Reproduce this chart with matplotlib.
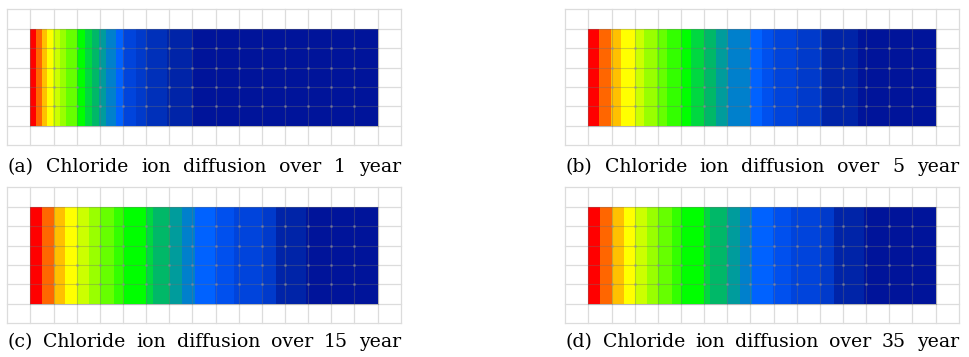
import numpy as np
import matplotlib
matplotlib.use('Agg')
import matplotlib.pyplot as plt
from matplotlib.colors import ListedColormap

# Contour band colours (high concentration -> low)
band_colors = ['#FF0000', '#FF6600', '#FFC000', '#FFFF00', '#CCFF00',
               '#99FF00', '#66FF00', '#33FF00', '#00FF00', '#00D840',
               '#00B868', '#009C9C', '#0080CC', '#0062FF', '#0050EE',
               '#0044DC', '#003ACB', '#0030BA', '#0024A8', '#00149A']

# Band edges along the specimen (in mesh cells, 0..15) and band colour index
edges_1 = [0, 0.24, 0.5, 0.73, 0.99, 1.26, 1.55, 2.01, 2.34, 2.64, 2.98,
           3.28, 3.68, 4.02, 4.56, 5.01, 5.88, 6.97, 15]
levels_1 = [0, 1, 2, 3, 4, 5, 6, 8, 9, 10, 11, 12, 13, 15, 16, 17, 18, 19]

edges_5 = [0, 0.45, 0.96, 1.39, 2.0, 2.42, 2.98, 3.38, 3.98, 4.42, 5.0,
           5.52, 6.03, 6.97, 7.48, 7.98, 8.99, 10.1, 11.66, 15]
levels_5 = [0, 1, 2, 3, 4, 5, 6, 7, 8, 9, 10, 11, 12, 13, 14, 15, 16, 18, 19]

edges_15 = [0, 0.49, 1.0, 1.51, 2.02, 2.54, 3.0, 3.63, 4.03, 5.01, 5.3,
            6.01, 6.53, 7.1, 7.97, 8.8, 10.0, 10.63, 11.92, 15]
levels_15 = [0, 1, 2, 3, 4, 5, 6, 7, 8, 9, 10, 11, 12, 13, 14, 15, 16, 18, 19]

edges_35 = [0, 0.48, 1.02, 1.52, 2.0, 2.53, 3.01, 3.61, 4.0, 4.98, 5.27,
            5.98, 6.53, 7.08, 7.97, 8.75, 9.99, 10.6, 11.91, 15]
levels_35 = [0, 1, 2, 3, 4, 5, 6, 7, 8, 9, 10, 11, 12, 13, 14, 15, 16, 18, 19]

captions = ['(a) Chloride ion diffusion over 1 year',
            '(b) Chloride ion diffusion over 5 year',
            '(c) Chloride ion diffusion over 15 year',
            '(d) Chloride ion diffusion over 35 year']

n_cols, n_rows = 15, 5   # mesh of the specimen

W, H = 970, 357
fig = plt.figure(figsize=(W / 100, H / 100), dpi=100)
cmap = ListedColormap(band_colors)

# panel boxes in pixels: left, top, right, bottom of the background grid
boxes = [(7.3, 9.3, 400.7, 145.3), (565.3, 9.3, 958.7, 145.3),
         (7.3, 187.3, 400.7, 323.3), (565.3, 187.3, 958.7, 323.3)]
baselines = [172, 172, 347, 347]
panels = [(edges_1, levels_1), (edges_5, levels_5),
          (edges_15, levels_15), (edges_35, levels_35)]

for (x0, y0, x1, y1), (edges, levels) in zip(boxes, panels):
    ax = fig.add_axes([x0 / W, 1 - y1 / H, (x1 - x0) / W, (y1 - y0) / H])
    ax.set_xlim(-1, n_cols + 1)
    ax.set_ylim(-1, n_rows + 1)
    ax.axis('off')

    # light background grid
    for gx in range(-1, n_cols + 2):
        ax.plot([gx, gx], [-1, n_rows + 1], color='#DCDCDC', lw=0.9,
                zorder=1, clip_on=False)
    for gy in range(-1, n_rows + 2):
        ax.plot([-1, n_cols + 1], [gy, gy], color='#DCDCDC', lw=0.9,
                zorder=1, clip_on=False)

    # banded concentration field
    ax.pcolormesh(np.array(edges), np.array([0, n_rows]),
                  np.array([levels]), cmap=cmap, vmin=-0.5,
                  vmax=len(band_colors) - 0.5, zorder=2)

    # mesh lines over the specimen
    for gx in range(0, n_cols + 1):
        ax.plot([gx, gx], [0, n_rows], color='#707070', lw=0.8, alpha=0.35,
                zorder=3)
    for gy in range(0, n_rows + 1):
        ax.plot([0, n_cols], [gy, gy], color='#707070', lw=0.8, alpha=0.35,
                zorder=3)
    nx, ny = np.meshgrid(np.arange(1, n_cols), np.arange(1, n_rows))
    ax.plot(nx.ravel(), ny.ravel(), ls='none', marker='s', ms=1.0,
            color='#9090A0', alpha=0.45, zorder=4)

# justified captions
renderer = fig.canvas.get_renderer()
for (x0, y0, x1, y1), base, cap in zip(boxes, baselines, captions):
    words = cap.split()
    texts = [fig.text(0, 1 - base / H, w, family='DejaVu Serif',
                      fontsize=13.6, va='baseline', ha='left')
             for w in words]
    widths = [t.get_window_extent(renderer).width for t in texts]
    gap = ((x1 - x0) - sum(widths)) / (len(words) - 1)
    pos = x0
    for t, w in zip(texts, widths):
        t.set_x(pos / W)
        pos += w + gap

fig.savefig('out.png', dpi=100)
